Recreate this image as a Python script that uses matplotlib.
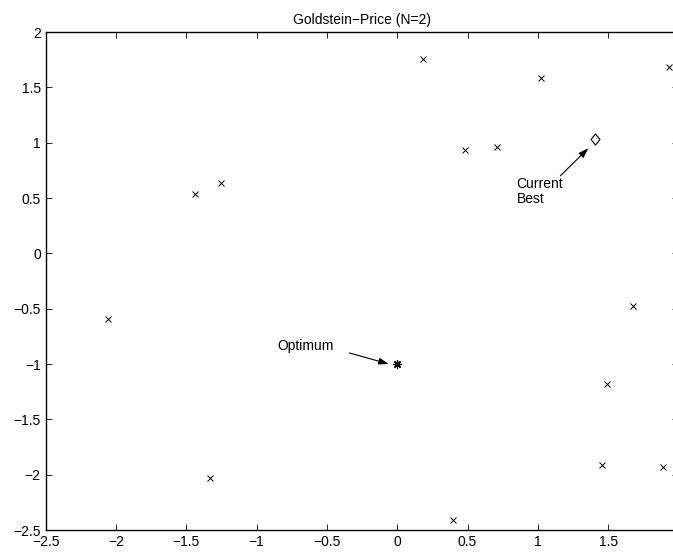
import matplotlib
matplotlib.use("Agg")
import matplotlib.pyplot as plt
from matplotlib.path import Path

plt.rcParams['font.family'] = ['Liberation Sans', 'DejaVu Sans']

title = "Goldstein\u2212Price (N=2)"

# sampled points (x markers)
pts_x = [0.18, 1.02, 1.93, 0.48, 0.71, -1.44, -1.25, -2.06, 1.68, 1.49, 1.46, 1.89, -1.33, 0.40]
pts_y = [1.76, 1.58, 1.68, 0.93, 0.96, 0.54, 0.64, -0.59, -0.48, -1.18, -1.91, -1.93, -2.03, -2.41]

best_x, best_y = [1.41], [1.03]
opt_x, opt_y = [0.0], [-1.0]

xticks = [-2.5, -2, -1.5, -1, -0.5, 0, 0.5, 1, 1.5, 2]
yticks = [-2.5, -2, -1.5, -1, -0.5, 0, 0.5, 1, 1.5, 2]
xlim = (-2.5, 2.0)
ylim = (-2.5, 2.0)

opt_label = "Optimum"
opt_text_pos = (-0.85, -0.84)
opt_arrow_tail = (-0.34, -0.90)
opt_arrow_head = (-0.06, -1.0)

best_label = "Current\nBest"
best_text_pos = (0.85, 0.56)
best_arrow_tail = (1.16, 0.70)
best_arrow_head = (1.36, 0.95)

fig = plt.figure(figsize=(6.73, 5.54), dpi=100)
W, H = 673, 554
ax = fig.add_axes([45.7 / W, 24 / H, (678.4 - 45.7) / W, (530 - 32) / H])

ax.plot(pts_x, pts_y, linestyle='none', marker='x', color='black',
        markersize=5, markeredgewidth=0.7)

diamond = Path([(0, 1), (0.8, 0), (0, -1), (-0.8, 0), (0, 1)],
               [Path.MOVETO, Path.LINETO, Path.LINETO, Path.LINETO, Path.CLOSEPOLY])
ax.plot(best_x, best_y, linestyle='none', marker=diamond, markersize=8,
        markerfacecolor='none', markeredgecolor='black', markeredgewidth=0.8)
ax.plot(opt_x, opt_y, linestyle='none', marker=(8, 2, 0), color='black',
        markersize=6, markeredgewidth=0.9)

ax.text(opt_text_pos[0], opt_text_pos[1], opt_label, fontsize=10,
        ha='left', va='center')
ax.annotate('', xy=opt_arrow_head, xytext=opt_arrow_tail,
            arrowprops=dict(arrowstyle='-|>,head_length=0.6,head_width=0.2',
                            color='black', lw=0.8, shrinkA=0, shrinkB=0))
ax.text(best_text_pos[0], best_text_pos[1], best_label, fontsize=10,
        ha='left', va='center', linespacing=1.1)
ax.annotate('', xy=best_arrow_head, xytext=best_arrow_tail,
            arrowprops=dict(arrowstyle='-|>,head_length=0.6,head_width=0.2',
                            color='black', lw=0.8, shrinkA=0, shrinkB=0))

ax.set_xlim(*xlim)
ax.set_ylim(*ylim)
ax.set_xticks(xticks)
ax.set_yticks(yticks)
ax.set_xticklabels([f"{v:g}".replace('-', '\u2212') for v in xticks])
ax.set_yticklabels([f"{v:g}".replace('-', '\u2212') for v in yticks])
ax.tick_params(direction='in', length=4, width=0.6, top=True, right=True,
               labelsize=10, pad=3.5)
for s in ax.spines.values():
    s.set_linewidth(1.0)
ax.set_title(title, fontsize=10, pad=6)

fig.savefig("out.png", dpi=100)
